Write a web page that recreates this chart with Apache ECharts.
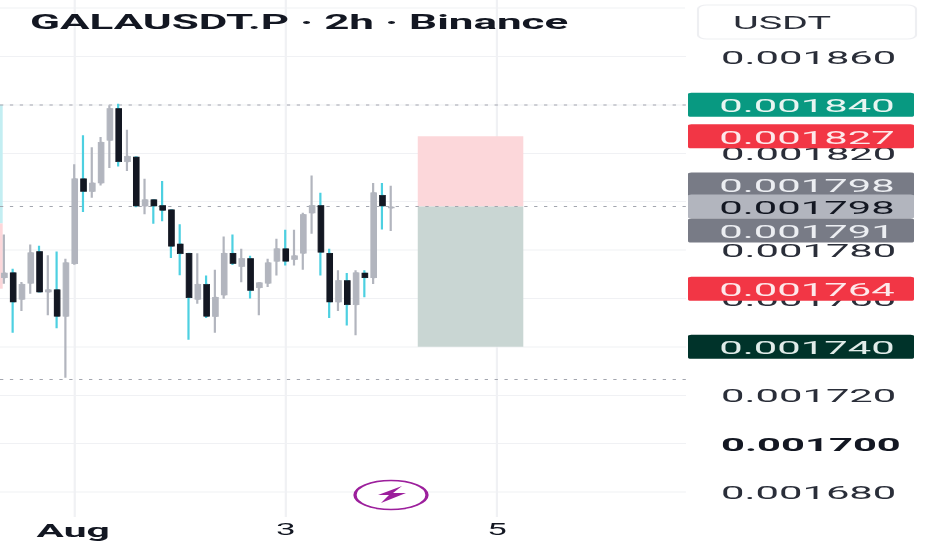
<!DOCTYPE html>
<html><head><meta charset="utf-8">
<style>html,body{margin:0;padding:0;background:#fff;overflow:hidden;width:932px;height:550px}
#c{width:848px;height:1100px;transform-origin:0 0;transform:scale(1.09906,0.5);filter:blur(0.7px)}</style>
<script src="https://cdn.jsdelivr.net/npm/echarts@6/dist/echarts.min.js"></script></head>
<body><div id="c"></div><script>
// prices in millionths of USDT
const opens =[1768.5,1770.6,1759.6,1766.3,1779.4,1762.6,1763.6,1752.6,1774.3,1809.4,1804.2,1807.7,1825.3,1838.5,1816.5,1818.4,1798.2,1800.8,1798.4,1796.6,1782.5,1778.7,1759.6,1765.8,1752.5,1761.4,1778.7,1773.2,1776.5,1764.4,1766.3,1775.4,1780.5,1776.1,1778.7,1795.3,1798.4,1778.7,1758.5,1767.4,1757.4,1770.5,1768.5,1802.6,1797.4];
const closes=[1770.5,1758.5,1765.8,1778.9,1762.6,1763.6,1752.6,1774.7,1809.4,1804.2,1807.7,1824.5,1838.5,1816.5,1818.7,1798.2,1800.8,1798.2,1796.4,1781.6,1778.5,1760.3,1765.8,1752.6,1760.5,1778.7,1774.4,1776.5,1763.3,1766.5,1774.7,1780.5,1775.4,1777.6,1794.7,1798.4,1779.1,1758.5,1767.4,1757.4,1770.6,1768.5,1803.7,1798.2,1797.8];
const lows  =[1766.1,1745.8,1754.8,1761.9,1762.4,1753.0,1747.7,1727.2,1773.9,1795.7,1801.6,1806.7,1813.9,1814.5,1812.6,1797.7,1794.8,1790.8,1791.9,1776.7,1769.6,1742.9,1757.8,1751.9,1745.8,1759.9,1773.8,1766.7,1760.0,1753.0,1764.7,1769.5,1773.6,1773.6,1771.8,1786.7,1769.5,1751.9,1754.8,1748.8,1744.8,1760.5,1765.9,1788.5,1787.8];
const highs =[1786.4,1772.3,1766.8,1782.3,1781.8,1777.8,1779.4,1776.4,1815.4,1827.4,1822.5,1826.7,1839.8,1840.4,1829.7,1818.7,1809.4,1801.0,1808.5,1796.8,1790.6,1778.9,1778.7,1769.5,1771.8,1785.6,1786.4,1780.5,1777.6,1766.7,1776.4,1784.6,1788.4,1788.4,1795.4,1810.8,1803.7,1780.5,1771.6,1770.5,1771.6,1771.6,1807.7,1807.7,1806.5];
const slotCount=78;
const tickSlots=[8,32,56];
const tickLabels=['Aug','3','5'];
const dashedLevels=[1840,1798,1726.5];
const stopBox=[1798,1827];
const targetBox=[1740,1798];
const boxSlots=[47,59];
const tagTexts =['0.001840','0.001827','0.001798','0.001798','0.001791','0.001764','0.001740'];
const tagLevels=[1840,1827,1807.1,1798,1788.1,1764,1740];
const tagFills =['#089981','#f23645','#787b86','#b2b5be','#787b86','#f23645','#00332a'];
const tagInks  =['#e8f5f1','#fde8ea','#eceef2','#131722','#eceef2','#fde8ea','#e0ece9'];
const X=p=>p/1.09906, Y=p=>p*2;
const FONT='Roboto';
const chart=echarts.init(document.getElementById('c'),null,{renderer:'svg',width:848,height:1100});
const cats=Array.from({length:slotCount},(_,i)=>String(i));
const full=opens.map((o,i)=>[o,closes[i],lows[i],highs[i]]);
const bodies=opens.map((o,i)=>[o,closes[i],Math.min(o,closes[i]),Math.max(o,closes[i])]);
chart.setOption({
 animation:false,
 grid:{left:X(-7),width:X(693),top:Y(56.4),height:Y(435.6),containLabel:false},
 xAxis:{type:'category',data:cats,axisLine:{show:false},axisTick:{show:false},splitLine:{show:false},
  axisLabel:{interval:i=>tickSlots.includes(i),margin:60,color:'#131722',fontFamily:FONT,fontSize:32,
   formatter:(v,i)=>{const k=tickSlots.indexOf(i);return k<0?'':(k===0?'{a|'+tickLabels[k]+'}':tickLabels[k]);},
   rich:{a:{fontFamily:FONT,fontSize:37,fontWeight:'bold',color:'#131722',padding:[0,3,0,0]}}}},
 yAxis:{type:'value',position:'right',min:1680,max:1860,interval:20,axisLine:{show:false},axisTick:{show:false},
  splitLine:{show:true,lineStyle:{color:'#f0f1f4',width:2}},
  axisLabel:{margin:X(35),color:'#2a2e39',fontFamily:FONT,fontSize:38,padding:[3,0,0,0],
   formatter:v=>{const s=(v/1e6).toFixed(6);return Math.round(v)===1700?'{b|'+s+'}':s;},
   rich:{b:{fontFamily:FONT,fontSize:38,fontWeight:'bold',color:'#131722'}}}},
 series:[
  {type:'candlestick',name:'wicks',data:full,barWidth:2,z:3,
   itemStyle:{color:'#b2b5be',color0:'#4dd0e1',borderColor:'#b2b5be',borderColor0:'#4dd0e1',borderWidth:2},
   markArea:{silent:true,z:1,data:[
    [{xAxis:boxSlots[0],yAxis:stopBox[1],itemStyle:{color:'#fcd7da'}},{xAxis:boxSlots[1],yAxis:stopBox[0]}],
    [{xAxis:boxSlots[0],yAxis:targetBox[1],itemStyle:{color:'#c9d6d3'}},{xAxis:boxSlots[1],yAxis:targetBox[0]}]]},
   markLine:{silent:true,symbol:'none',z:2,label:{show:false},lineStyle:{color:'#a3a6af',type:[3,6],width:2},
    data:dashedLevels.map(v=>({yAxis:v}))}},
  {type:'candlestick',name:'bodies',data:bodies,barWidth:6,z:4,
   itemStyle:{color:'#b2b5be',color0:'#131722',borderColor:'#b2b5be',borderColor0:'#131722',borderWidth:1}}
 ]});
const py=v=>chart.convertToPixel({yAxisIndex:0},v);
const px=i=>chart.convertToPixel({xAxisIndex:0},i);
const g=[];
tickSlots.forEach(i=>g.push({type:'line',z:0,silent:true,shape:{x1:px(i),y1:0,x2:px(i),y2:Y(517)},style:{stroke:'#f0f1f4',lineWidth:2}}));
g.push({type:'line',z:0,silent:true,shape:{x1:0,y1:py(1880),x2:X(685),y2:py(1880)},style:{stroke:'#f0f1f4',lineWidth:2}});
g.push({type:'rect',z:1,shape:{x:0,y:py(1840),width:X(2.7),height:py(1791)-py(1840)},style:{fill:'#c3eef2'}});
g.push({type:'rect',z:1,shape:{x:0,y:py(1791),width:X(2.7),height:py(1764)-py(1791)},style:{fill:'#fcd7da'}});
tagTexts.forEach((t,i)=>{
 const y=py(tagLevels[i]);
 g.push({type:'rect',z:100,shape:{x:X(688),y:y-Y(12),width:X(226),height:Y(24),r:3},style:{fill:tagFills[i]}});
 g.push({type:'text',z:101,x:X(807),y:y+2,style:{text:t,fill:tagInks[i],font:'38px '+FONT,align:'center',verticalAlign:'middle'}});
});
g.push({type:'rect',z:100,shape:{x:X(698),y:Y(5),width:X(218),height:Y(34),r:8},style:{fill:'#fff',stroke:'#eeeff2',lineWidth:2}});
g.push({type:'text',z:101,x:X(733),y:Y(22.5),style:{text:'USDT',fill:'#2a2e39',font:'36px '+FONT,align:'left',verticalAlign:'middle'}});
g.push({type:'text',z:101,x:X(30),y:Y(22),style:{text:'GALAUSDT.P · 2h · Binance',fill:'#131722',font:'bold 40px '+FONT,align:'left',verticalAlign:'middle'}});
g.push({type:'ellipse',z:50,shape:{cx:X(391),cy:Y(495),rx:X(36),ry:Y(14.5)},style:{fill:'#fff',stroke:'#9c1f9c',lineWidth:3}});
g.push({type:'polygon',z:51,shape:{points:[[X(402),Y(486)],[X(378),Y(495)],[X(389),Y(495)],[X(381),Y(503)],[X(406),Y(493)],[X(393),Y(493)]]},style:{fill:'#9c1f9c'}});
chart.setOption({graphic:{elements:g}});
</script></body></html>
